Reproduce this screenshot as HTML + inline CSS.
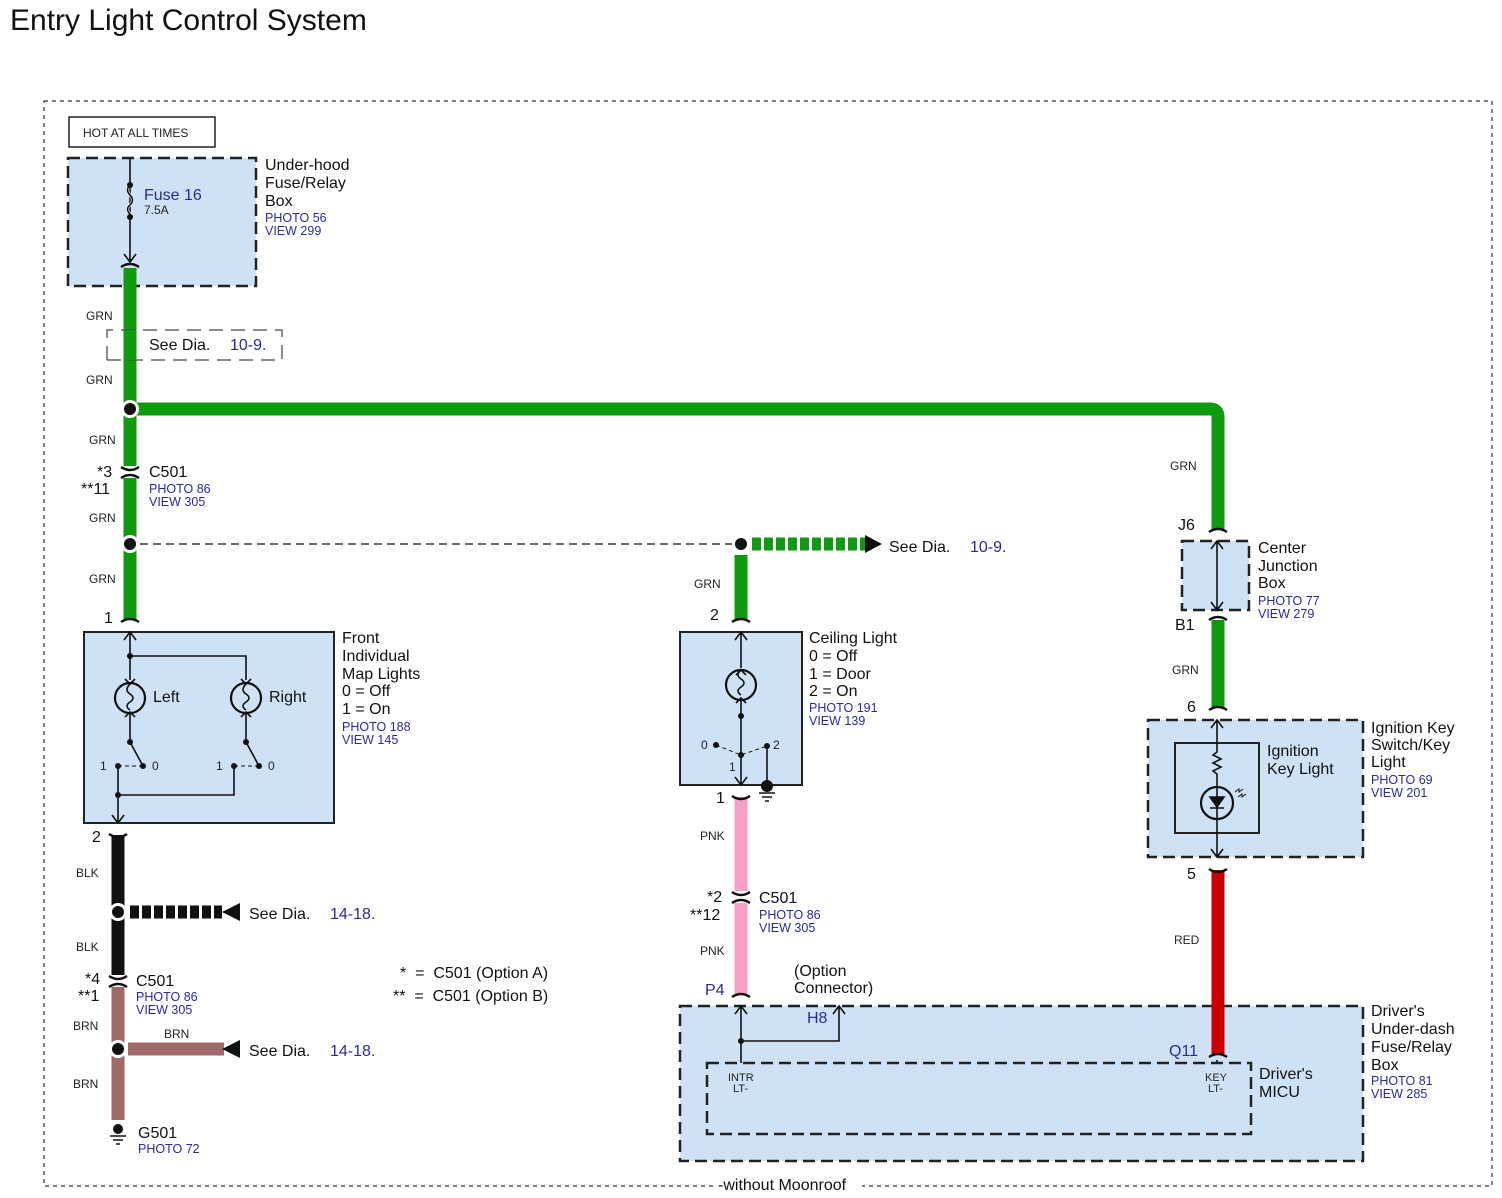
<!DOCTYPE html>
<html><head><meta charset="utf-8"><style>
html,body{margin:0;padding:0;background:#fff;}
svg{display:block;font-family:"Liberation Sans",Arial,sans-serif;}
.t{font-size:16px;fill:#111}
.s{font-size:12px;fill:#222}
.b{font-size:12.5px;fill:#2a2aa0}
.bl{font-size:16px;fill:#2a2aa0}
.box{fill:#cfe1f4;stroke:#222;stroke-width:2}
.dbox{fill:#cfe1f4;stroke:#222;stroke-width:2.5;stroke-dasharray:12 6}
.ln{stroke:#111;stroke-width:1.6;fill:none}
.cap{stroke:#111;stroke-width:2.5;fill:none}
</style></head><body>
<svg width="1502" height="1198" viewBox="0 0 1502 1198" xmlns="http://www.w3.org/2000/svg">
<text x="10" y="30" style="font-size:30px;fill:#111">Entry Light Control System</text>
<rect x="44" y="101" width="1448" height="1085" fill="none" stroke="#333" stroke-width="1.2" stroke-dasharray="4 4"/>

<rect x="69" y="117" width="146" height="30" fill="#fff" stroke="#222" stroke-width="1.5"/>
<text x="83" y="137" class="s">HOT AT ALL TIMES</text>

<rect x="68" y="158" width="188" height="128" class="dbox"/>
<path d="M130 158 V262 M124 254 L130 262 L136 254" class="ln"/>
<path d="M130 185 q-5 5 0 10 q5 5 0 10 q-5 4 0 9" fill="none" stroke="#fff" stroke-width="3"/>
<path d="M130 185 q-5 5 0 10 q5 5 0 10 q-5 4 0 9" class="ln"/>
<circle cx="130" cy="185" r="3" fill="#111"/><circle cx="130" cy="217" r="3" fill="#111"/>
<text x="144" y="200" class="bl">Fuse 16</text>
<text x="144" y="214" class="s">7.5A</text>
<text x="265" y="170" class="t">Under-hood</text>
<text x="265" y="188" class="t">Fuse/Relay</text>
<text x="265" y="206" class="t">Box</text>
<text x="265" y="222" class="b">PHOTO 56</text>
<text x="265" y="235" class="b">VIEW 299</text>

<path d="M130 268 V620" stroke="#109a10" stroke-width="13" fill="none"/>
<path d="M130 409 H1210 Q1218 409 1218 417 V530" stroke="#109a10" stroke-width="13" fill="none"/>
<path d="M1218 620 V708" stroke="#109a10" stroke-width="13" fill="none"/>
<path d="M741 555 V620" stroke="#109a10" stroke-width="13" fill="none"/>
<path d="M121 267 q9 -6 18 0" class="cap"/>

<path d="M107 360 V330 H282 V360 M107 360 H282" fill="none" stroke="#444" stroke-width="1.2" stroke-dasharray="14 8"/>
<rect x="140" y="333" width="135" height="24" fill="#fff"/>
<path d="M130 330 V360" stroke="#109a10" stroke-width="13"/>
<text x="149" y="350" class="t">See Dia.</text><text x="230" y="350" class="bl">10-9.</text>
<text x="86" y="320" class="s">GRN</text>
<text x="86" y="384" class="s">GRN</text>
<text x="89" y="444" class="s">GRN</text>
<text x="89" y="522" class="s">GRN</text>
<text x="89" y="583" class="s">GRN</text>

<circle cx="130" cy="409" r="9" fill="#fff"/><circle cx="130" cy="409" r="6" fill="#111"/>

<rect x="120" y="466" width="20" height="12" fill="#fff"/>
<path d="M121 467 q9 6 18 0 M121 478 q9 -6 18 0" class="cap"/>
<text x="97" y="477" class="t">*3</text><text x="149" y="477" class="t">C501</text>
<text x="81" y="494" class="t">**11</text>
<text x="149" y="493" class="b">PHOTO 86</text><text x="149" y="506" class="b">VIEW 305</text>

<path d="M140 544 H735" stroke="#111" stroke-width="1.3" stroke-dasharray="8 5"/>
<circle cx="130" cy="544" r="9" fill="#fff"/><circle cx="130" cy="544" r="6" fill="#111"/>
<path d="M752 544 H865" stroke="#109a10" stroke-width="13" stroke-dasharray="9 3"/>
<path d="M865 535 L882 544 L865 553 Z" fill="#111"/>
<circle cx="741" cy="544" r="9" fill="#fff"/><circle cx="741" cy="544" r="6" fill="#111"/>
<text x="889" y="552" class="t">See Dia.</text><text x="970" y="552" class="bl">10-9.</text>
<text x="1170" y="470" class="s">GRN</text>
<text x="694" y="588" class="s">GRN</text>

<text x="104" y="623" class="t">1</text>
<path d="M121 622 q9 -6 18 0" class="cap"/>
<rect x="84" y="632" width="250" height="191" class="box"/>
<path d="M130 632 V680 M124 640 L130 632 L136 640 M130 656 H246 V680" class="ln"/>
<circle cx="130" cy="656" r="3" fill="#111"/>
<g class="ln">
<circle cx="130" cy="698" r="15" stroke-width="2.2"/><circle cx="246" cy="698" r="15" stroke-width="2.2"/>
<path d="M125 679 L130 684 L135 679 M241 679 L246 684 L251 679"/>
<path d="M125 717 L130 712 L135 717 M241 717 L246 712 L251 717"/>
<path d="M130 684 q-6 6 0 10 q6 4 0 8 q-6 4 0 8 M246 684 q-6 6 0 10 q6 4 0 8 q-6 4 0 8"/>
<path d="M130 712 V742 L143 766 M246 712 V742 L259 766"/>
<path d="M118 766 V823 M234 766 V795 H118"/>
<path d="M112 815 L118 823 L124 815"/>
<path d="M118 766 H143 M234 766 H259" stroke-dasharray="4 3" stroke-width="1"/>
</g>
<g fill="#111"><circle cx="130" cy="742" r="3"/><circle cx="143" cy="766" r="3"/><circle cx="118" cy="766" r="3"/><circle cx="246" cy="742" r="3"/><circle cx="259" cy="766" r="3"/><circle cx="234" cy="766" r="3"/><circle cx="118" cy="795" r="3"/></g>
<text x="153" y="702" class="t">Left</text><text x="269" y="702" class="t">Right</text>
<text x="100" y="770" class="s">1</text><text x="152" y="770" class="s">0</text>
<text x="216" y="770" class="s">1</text><text x="268" y="770" class="s">0</text>
<text x="342" y="643" class="t">Front</text><text x="342" y="661" class="t">Individual</text>
<text x="342" y="679" class="t">Map Lights</text><text x="342" y="696" class="t">0 = Off</text>
<text x="342" y="714" class="t">1 = On</text>
<text x="342" y="731" class="b">PHOTO 188</text><text x="342" y="744" class="b">VIEW 145</text>

<path d="M118 835 V975" stroke="#111" stroke-width="13"/>
<path d="M118 985 V1120" stroke="#a06a68" stroke-width="13"/>
<path d="M109 834 q9 6 18 0" class="cap"/>
<text x="92" y="842" class="t">2</text>
<text x="76" y="877" class="s">BLK</text>
<text x="76" y="951" class="s">BLK</text>
<path d="M130 912 H222" stroke="#111" stroke-width="13" stroke-dasharray="9 3"/>
<path d="M240 903 L222 912 L240 921 Z" fill="#111"/>
<circle cx="118" cy="912" r="9" fill="#fff"/><circle cx="118" cy="912" r="6" fill="#111"/>
<text x="249" y="919" class="t">See Dia.</text><text x="330" y="919" class="bl">14-18.</text>
<rect x="108" y="975" width="20" height="12" fill="#fff"/>
<path d="M109 976 q9 6 18 0 M109 987 q9 -6 18 0" class="cap"/>
<text x="85" y="984" class="t">*4</text><text x="136" y="986" class="t">C501</text>
<text x="78" y="1001" class="t">**1</text>
<text x="136" y="1001" class="b">PHOTO 86</text><text x="136" y="1014" class="b">VIEW 305</text>
<text x="73" y="1030" class="s">BRN</text>
<text x="73" y="1088" class="s">BRN</text>
<text x="164" y="1038" class="s">BRN</text>
<path d="M128 1049 H224" stroke="#a06a68" stroke-width="13"/>
<path d="M240 1040 L222 1049 L240 1058 Z" fill="#111"/>
<circle cx="118" cy="1049" r="9" fill="#fff"/><circle cx="118" cy="1049" r="6" fill="#111"/>
<text x="249" y="1056" class="t">See Dia.</text><text x="330" y="1056" class="bl">14-18.</text>
<circle cx="118" cy="1128" r="7" fill="#fff"/><circle cx="118" cy="1129" r="5" fill="#111"/>
<path d="M110 1136 H126 M113 1140 H123 M116 1144 H120" class="ln"/>
<text x="138" y="1138" class="t">G501</text>
<text x="138" y="1153" class="b">PHOTO 72</text>

<text x="400" y="978" class="t">*&#160; =&#160; C501 (Option A)</text>
<text x="393" y="1001" class="t">**&#160; =&#160; C501 (Option B)</text>

<text x="710" y="620" class="t">2</text>
<path d="M732 622 q9 -6 18 0" class="cap"/>
<rect x="680" y="632" width="122" height="153" class="box"/>
<g class="ln">
<path d="M741 632 V668 M735 640 L741 632 L747 640 M736 675 L741 670 L746 675 M736 703 L741 698 L746 703"/>
<circle cx="741" cy="685" r="15" stroke-width="2.2"/>
<path d="M741 670 q-6 5 0 9 q6 4 0 8 q-6 4 0 8"/>
<path d="M741 700 V785 M735 777 L741 785 L747 777 M767 746 V785"/>
<path d="M716 745 L741 755 L767 746" stroke-dasharray="4 3" stroke-width="1"/>
</g>
<g fill="#111"><circle cx="741" cy="716" r="3"/><circle cx="741" cy="755" r="3"/><circle cx="716" cy="745" r="3"/><circle cx="767" cy="746" r="3"/><circle cx="767" cy="786" r="6"/></g>
<path d="M759 793 H775 M762 797 H772 M765 801 H769" class="ln"/>
<text x="701" y="749" class="s">0</text><text x="773" y="749" class="s">2</text><text x="729" y="771" class="s">1</text>
<text x="809" y="643" class="t">Ceiling Light</text><text x="809" y="661" class="t">0 = Off</text>
<text x="809" y="679" class="t">1 = Door</text><text x="809" y="696" class="t">2 = On</text>
<text x="809" y="712" class="b">PHOTO 191</text><text x="809" y="725" class="b">VIEW 139</text>

<path d="M741 797 V995" stroke="#f59fc9" stroke-width="13"/>
<path d="M732 796 q9 6 18 0" class="cap"/>
<text x="716" y="803" class="t">1</text>
<text x="700" y="840" class="s">PNK</text>
<rect x="731" y="891" width="20" height="12" fill="#fff"/>
<path d="M732 892 q9 6 18 0 M732 903 q9 -6 18 0" class="cap"/>
<text x="707" y="902" class="t">*2</text><text x="759" y="903" class="t">C501</text>
<text x="690" y="920" class="t">**12</text>
<text x="759" y="919" class="b">PHOTO 86</text><text x="759" y="932" class="b">VIEW 305</text>
<text x="700" y="955" class="s">PNK</text>
<path d="M732 997 q9 -6 18 0" class="cap"/>
<text x="705" y="995" class="bl">P4</text>
<text x="794" y="976" class="t">(Option</text><text x="794" y="993" class="t">Connector)</text>

<text x="1178" y="530" class="t">J6</text>
<path d="M1209 532 q9 -6 18 0" class="cap"/>
<rect x="1182" y="541" width="67" height="69" class="dbox"/>
<path d="M1217 541 V610 M1211 549 L1217 541 L1223 549 M1211 602 L1217 610 L1223 602" class="ln"/>
<path d="M1209 620 q9 -6 18 0" class="cap"/>
<text x="1175" y="630" class="t">B1</text>
<text x="1258" y="553" class="t">Center</text><text x="1258" y="571" class="t">Junction</text>
<text x="1258" y="588" class="t">Box</text>
<text x="1258" y="605" class="b">PHOTO 77</text><text x="1258" y="618" class="b">VIEW 279</text>
<text x="1172" y="674" class="s">GRN</text>

<text x="1187" y="712" class="t">6</text>
<path d="M1209 710 q9 -6 18 0" class="cap"/>
<rect x="1148" y="720" width="215" height="137" class="dbox"/>
<rect x="1175" y="743" width="84" height="90" fill="none" stroke="#222" stroke-width="2"/>
<g class="ln">
<path d="M1217 720 V752 l-4 3 l8 4 l-8 4 l8 4 l-8 4 l4 3 V857 M1211 728 L1217 720 L1223 728 M1211 849 L1217 857 L1223 849"/>
<circle cx="1217" cy="803" r="16" stroke-width="2.2"/>
<path d="M1210 797 H1224 L1217 807 Z M1210 808 H1224" fill="#111"/>
<path d="M1235 792 l4 -3 l0 3 l4 -3 M1238 797 l4 -3 l0 3 l4 -3" stroke-width="1"/>
</g>
<text x="1267" y="756" class="t">Ignition</text><text x="1267" y="774" class="t">Key Light</text>
<text x="1371" y="733" class="t">Ignition Key</text><text x="1371" y="750" class="t">Switch/Key</text>
<text x="1371" y="767" class="t">Light</text>
<text x="1371" y="784" class="b">PHOTO 69</text><text x="1371" y="797" class="b">VIEW 201</text>

<rect x="680" y="1006" width="683" height="155" class="dbox"/>
<rect x="707" y="1063" width="544" height="71" fill="none" stroke="#222" stroke-width="2.5" stroke-dasharray="12 6"/>
<path d="M741 1006 V1063 M735 1014 L741 1006 L747 1014 M741 1041 H839 V1006 M833 1014 L839 1006 L845 1014 M1217 1060 V1063" class="ln"/>
<circle cx="741" cy="1041" r="3" fill="#111"/>
<text x="807" y="1023" class="bl">H8</text>
<text x="728" y="1081" style="font-size:11px;fill:#222">INTR</text><text x="733" y="1092" style="font-size:11px;fill:#222">LT-</text>
<text x="1205" y="1081" style="font-size:11px;fill:#222">KEY</text><text x="1208" y="1092" style="font-size:11px;fill:#222">LT-</text>
<text x="1259" y="1079" class="t">Driver's</text><text x="1259" y="1097" class="t">MICU</text>
<text x="1371" y="1016" class="t">Driver's</text><text x="1371" y="1034" class="t">Under-dash</text>
<text x="1371" y="1052" class="t">Fuse/Relay</text><text x="1371" y="1070" class="t">Box</text>
<text x="1371" y="1085" class="b">PHOTO 81</text><text x="1371" y="1098" class="b">VIEW 285</text>

<path d="M1218 870 V1054" stroke="#cc0000" stroke-width="13"/>
<path d="M1209 869 q9 6 18 0" class="cap"/>
<text x="1187" y="879" class="t">5</text>
<text x="1174" y="944" class="s">RED</text>
<path d="M1209 1057 q9 -6 18 0" class="cap"/>
<text x="1169" y="1056" class="bl">Q11</text>

<rect x="716" y="1178" width="146" height="14" fill="#fff"/>
<text x="718" y="1190" class="t">-without Moonroof</text>
</svg>
</body></html>
